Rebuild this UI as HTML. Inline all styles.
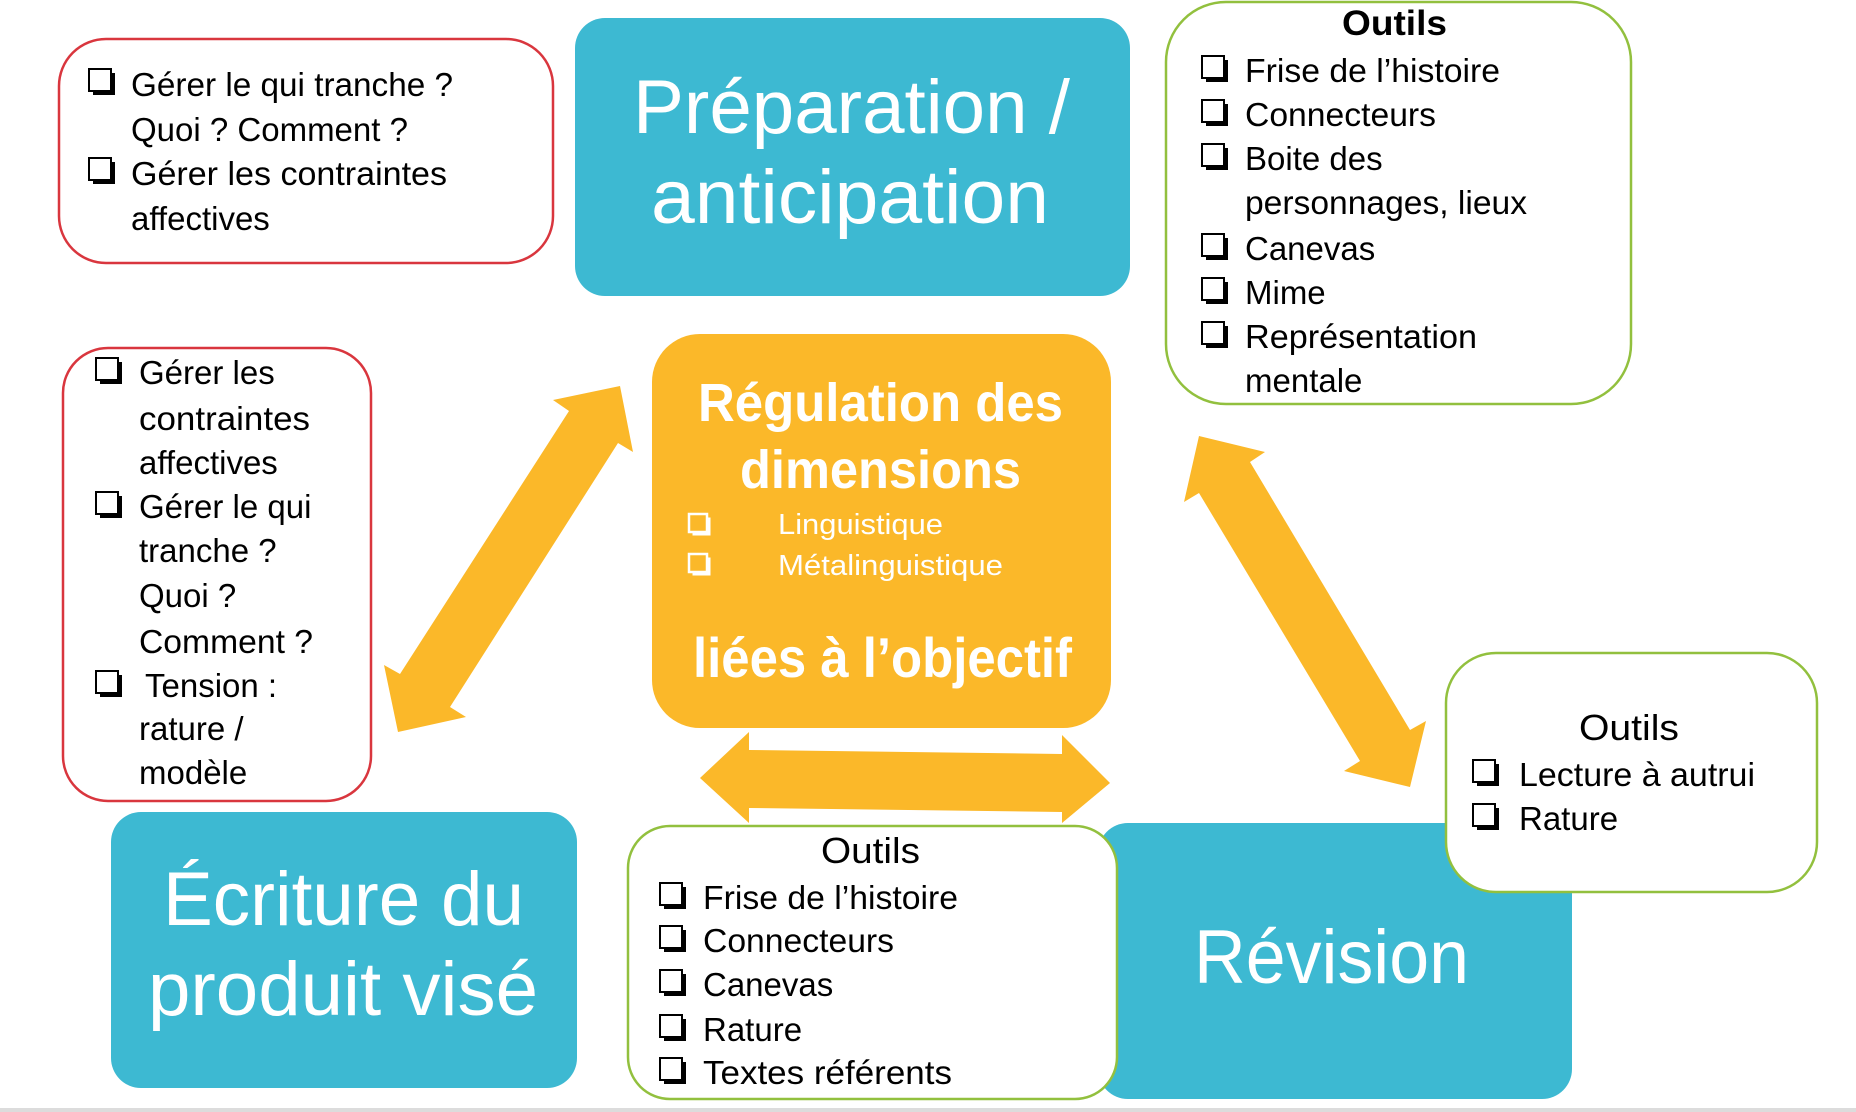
<!DOCTYPE html>
<html>
<head>
<meta charset="utf-8">
<style>
html,body{margin:0;padding:0;background:#fff;}
svg{display:block;}
text{font-family:"Liberation Sans", sans-serif;}
</style>
</head>
<body>
<svg width="1856" height="1112" viewBox="0 0 1856 1112" xmlns="http://www.w3.org/2000/svg">
  <defs>
    <g id="cb">
      <rect x="4" y="4" width="22" height="22" fill="#000"/>
      <rect x="0" y="0" width="22" height="22" fill="#fff" stroke="#000" stroke-width="2"/>
    </g>
    <g id="cbw">
      <rect x="3.5" y="3.5" width="18" height="18" fill="#fff"/>
      <rect x="0" y="0" width="18" height="18" fill="#FBB829" stroke="#fff" stroke-width="2.5"/>
    </g>
  </defs>

  <!-- bottom gray line -->
  <rect x="0" y="1108" width="1856" height="4" fill="#dcdcdc"/>

  <!-- Arrows -->
  <polygon fill="#FBB829" points="620,386 633,452 618,443 450,707 466,717 398,732 384,665 400,674 569,411 553,400"/>
  <polygon fill="#FBB829" points="1199,436 1265,452 1250,462 1410,730 1426,721 1410,787 1344,771 1360,761 1199,493 1184,502"/>
  <polygon fill="#FBB829" points="700,778 749,732 749,750 1062,754 1062,735 1110,783 1062,823 1062,812 749,808 749,823"/>

  <!-- Red box 1 -->
  <rect x="59" y="39" width="494" height="224" rx="47" ry="47" fill="#fff" stroke="#D9363E" stroke-width="2.5"/>
  <use href="#cb" x="89" y="69"/>
  <text x="131" y="96" font-size="33" textLength="322" lengthAdjust="spacingAndGlyphs">Gérer le qui tranche ?</text>
  <text x="131" y="141" font-size="33">Quoi ? Comment ?</text>
  <use href="#cb" x="89" y="158"/>
  <text x="131" y="185" font-size="33" textLength="316" lengthAdjust="spacingAndGlyphs">Gérer les contraintes</text>
  <text x="131" y="230" font-size="33">affectives</text>

  <!-- Préparation / anticipation -->
  <rect x="575" y="18" width="555" height="278" rx="30" ry="30" fill="#3DB9D2"/>
  <text x="633" y="133" font-size="76" fill="#fff" textLength="437" lengthAdjust="spacingAndGlyphs">Préparation /</text>
  <text x="651" y="223" font-size="76" fill="#fff" textLength="398" lengthAdjust="spacingAndGlyphs">anticipation</text>

  <!-- Green box top right -->
  <rect x="1166" y="2" width="465" height="402" rx="60" ry="60" fill="#fff" stroke="#92C03E" stroke-width="2.5"/>
  <text x="1342" y="35" font-size="35" font-weight="bold" textLength="105" lengthAdjust="spacingAndGlyphs">Outils</text>
  <use href="#cb" x="1202" y="56"/>
  <text x="1245" y="82" font-size="33" textLength="255" lengthAdjust="spacingAndGlyphs">Frise de l’histoire</text>
  <use href="#cb" x="1202" y="100"/>
  <text x="1245" y="126" font-size="33" textLength="191" lengthAdjust="spacingAndGlyphs">Connecteurs</text>
  <use href="#cb" x="1202" y="144"/>
  <text x="1245" y="170" font-size="33">Boite des</text>
  <text x="1245" y="214" font-size="33" textLength="282" lengthAdjust="spacingAndGlyphs">personnages, lieux</text>
  <use href="#cb" x="1202" y="234"/>
  <text x="1245" y="260" font-size="33">Canevas</text>
  <use href="#cb" x="1202" y="278"/>
  <text x="1245" y="304" font-size="33">Mime</text>
  <use href="#cb" x="1202" y="322"/>
  <text x="1245" y="348" font-size="33" textLength="232" lengthAdjust="spacingAndGlyphs">Représentation</text>
  <text x="1245" y="392" font-size="33">mentale</text>

  <!-- Red box 2 -->
  <rect x="63" y="348" width="308" height="453" rx="45" ry="45" fill="#fff" stroke="#D9363E" stroke-width="2.5"/>
  <use href="#cb" x="96" y="358"/>
  <text x="139" y="384" font-size="33">Gérer les</text>
  <text x="139" y="430" font-size="33" textLength="171" lengthAdjust="spacingAndGlyphs">contraintes</text>
  <text x="139" y="474" font-size="33">affectives</text>
  <use href="#cb" x="96" y="492"/>
  <text x="139" y="518" font-size="33">Gérer le qui</text>
  <text x="139" y="562" font-size="33">tranche ?</text>
  <text x="139" y="607" font-size="33">Quoi ?</text>
  <text x="139" y="653" font-size="33" textLength="174" lengthAdjust="spacingAndGlyphs">Comment ?</text>
  <use href="#cb" x="96" y="671"/>
  <text x="145" y="697" font-size="33">Tension :</text>
  <text x="139" y="740" font-size="33">rature /</text>
  <text x="139" y="784" font-size="33">modèle</text>

  <!-- Orange center box -->
  <rect x="652" y="334" width="459" height="394" rx="48" ry="48" fill="#FBB829"/>
  <text x="698" y="421" font-size="54" font-weight="bold" fill="#fff" textLength="365" lengthAdjust="spacingAndGlyphs">Régulation des</text>
  <text x="740" y="488" font-size="54" font-weight="bold" fill="#fff" textLength="281" lengthAdjust="spacingAndGlyphs">dimensions</text>
  <use href="#cbw" x="689" y="514"/>
  <text x="778" y="534" font-size="29" fill="#fff" textLength="165" lengthAdjust="spacingAndGlyphs">Linguistique</text>
  <use href="#cbw" x="689" y="554"/>
  <text x="778" y="575" font-size="29" fill="#fff" textLength="225" lengthAdjust="spacingAndGlyphs">Métalinguistique</text>
  <text x="693" y="677" font-size="56" font-weight="bold" fill="#fff" textLength="379" lengthAdjust="spacingAndGlyphs">liées à l’objectif</text>

  <!-- Écriture du produit visé -->
  <rect x="111" y="812" width="466" height="276" rx="30" ry="30" fill="#3DB9D2"/>
  <text x="163" y="925" font-size="76" fill="#fff" textLength="361" lengthAdjust="spacingAndGlyphs">Écriture du</text>
  <text x="148" y="1015" font-size="76" fill="#fff" textLength="390" lengthAdjust="spacingAndGlyphs">produit visé</text>

  <!-- Révision -->
  <rect x="1098" y="823" width="474" height="276" rx="30" ry="30" fill="#3DB9D2"/>
  <text x="1194" y="983" font-size="76" fill="#fff" textLength="275" lengthAdjust="spacingAndGlyphs">Révision</text>

  <!-- Green bottom center -->
  <rect x="628" y="826" width="489" height="273" rx="42" ry="42" fill="#fff" stroke="#92C03E" stroke-width="2.5"/>
  <text x="821" y="863" font-size="36" textLength="99" lengthAdjust="spacingAndGlyphs">Outils</text>
  <use href="#cb" x="660" y="883"/>
  <text x="703" y="909" font-size="33" textLength="255" lengthAdjust="spacingAndGlyphs">Frise de l’histoire</text>
  <use href="#cb" x="660" y="926"/>
  <text x="703" y="952" font-size="33" textLength="191" lengthAdjust="spacingAndGlyphs">Connecteurs</text>
  <use href="#cb" x="660" y="970"/>
  <text x="703" y="996" font-size="33">Canevas</text>
  <use href="#cb" x="660" y="1015"/>
  <text x="703" y="1041" font-size="33">Rature</text>
  <use href="#cb" x="660" y="1058"/>
  <text x="703" y="1084" font-size="33" textLength="249" lengthAdjust="spacingAndGlyphs">Textes référents</text>

  <!-- Green right box -->
  <rect x="1446" y="653" width="371" height="239" rx="50" ry="50" fill="#fff" stroke="#92C03E" stroke-width="2.5"/>
  <text x="1579" y="740" font-size="36" textLength="100" lengthAdjust="spacingAndGlyphs">Outils</text>
  <use href="#cb" x="1473" y="760"/>
  <text x="1519" y="786" font-size="33" textLength="236" lengthAdjust="spacingAndGlyphs">Lecture à autrui</text>
  <use href="#cb" x="1473" y="804"/>
  <text x="1519" y="830" font-size="33">Rature</text>
</svg>
</body>
</html>
